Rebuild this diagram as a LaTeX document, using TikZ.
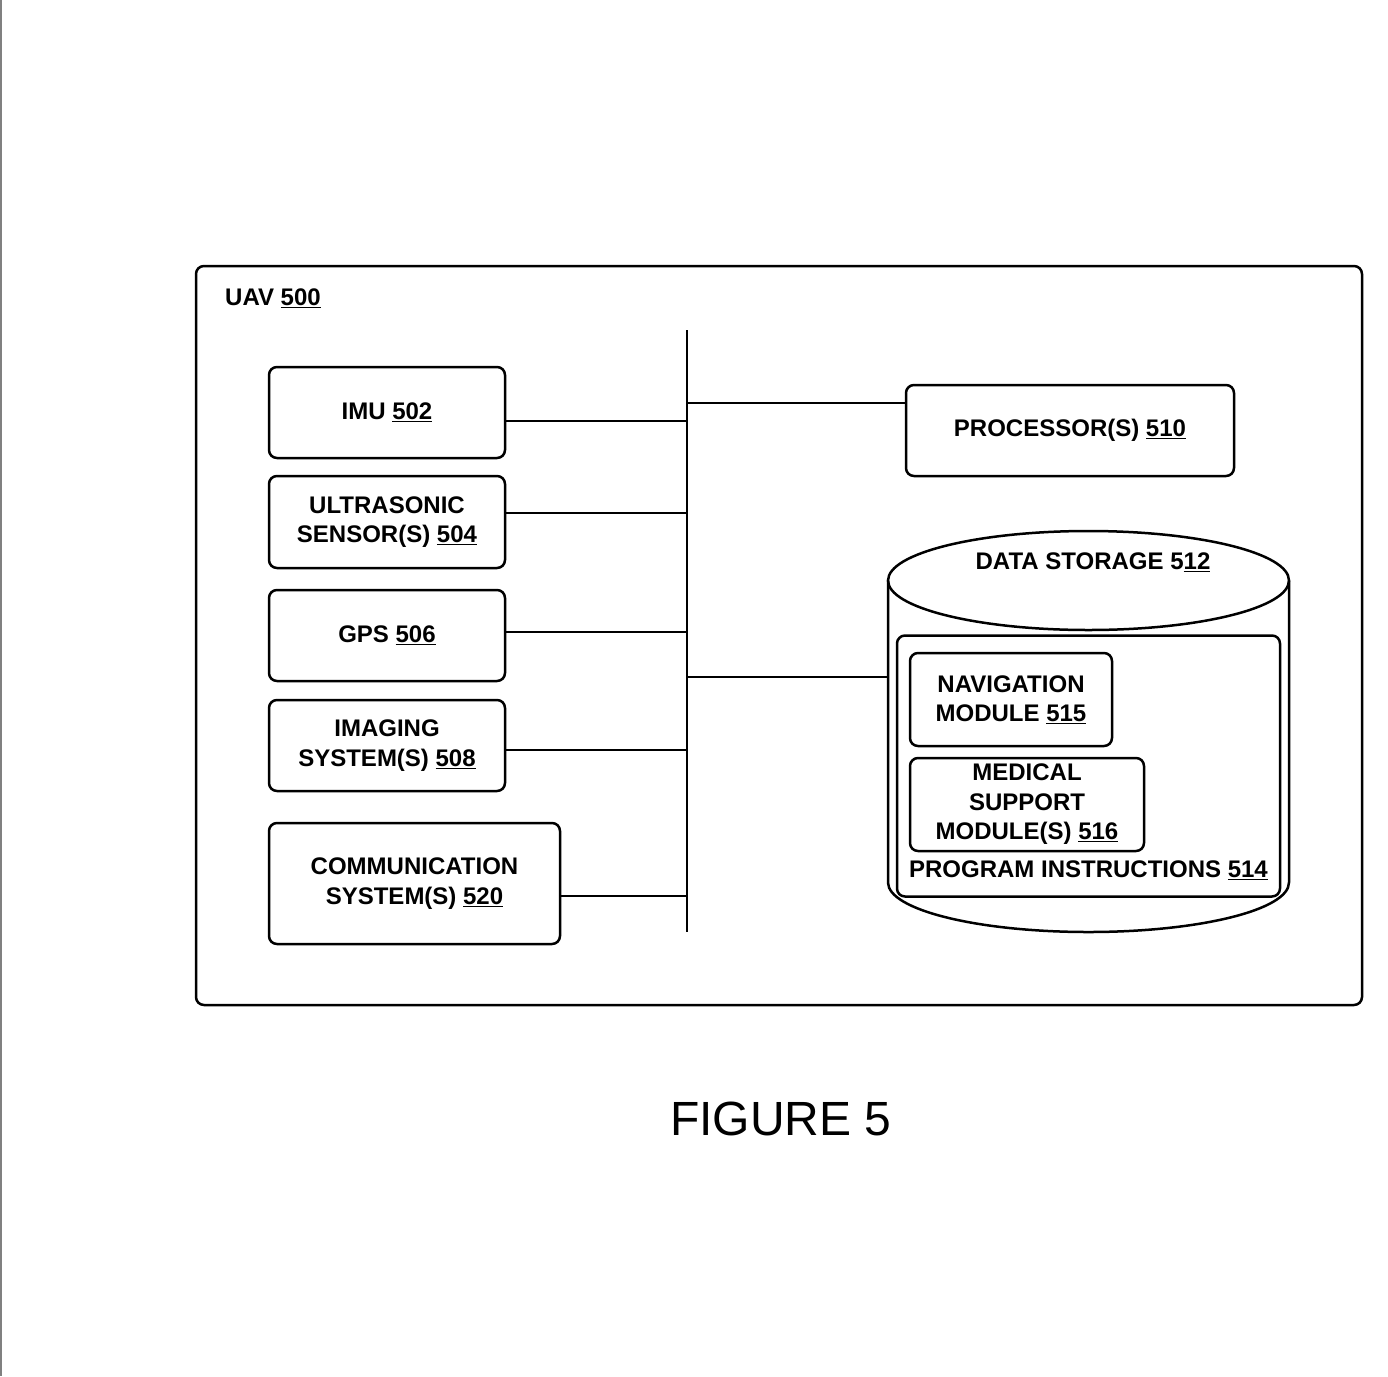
\documentclass[tikz,border=0pt]{standalone}
\usepackage{fontspec}
\setmainfont{Liberation Sans}
\begin{document}
\begin{tikzpicture}[x=1pt,y=-1pt,
		box/.style={draw, line width=2.5pt, rounded corners=8pt, align=center, inner sep=0pt,
			font=\bfseries\fontsize{24}{29.5}\selectfont},
		lbl/.style={align=center, inner sep=0pt, font=\bfseries\fontsize{24}{29.5}\selectfont},
		wire/.style={line width=2pt}]
		\useasboundingbox (0,0) rectangle (1388,1376);
		\draw[gray, line width=2pt] (1,0) -- (1,1376);
		
		% outer frame
		\node[box, minimum width=1166, minimum height=739] (uav) at (779,635.5) {};
		\node[lbl, anchor=west] (uavlbl) at (225,298) {UAV \underline{500}};
		
		% left column
		\node[box, minimum width=236, minimum height=91] (imu) at (387,412.5) {IMU \underline{502}};
		\node[box, minimum width=236, minimum height=92] (sonic) at (387,522) {ULTRASONIC\\SENSOR(S) \underline{504}};
		\node[box, minimum width=236, minimum height=91] (gps) at (387,635.5) {GPS \underline{506}};
		\node[box, minimum width=236, minimum height=91] (imaging) at (387,745.5) {IMAGING\\SYSTEM(S) \underline{508}};
		\node[box, minimum width=291, minimum height=121] (comm) at (414.5,883.5) {COMMUNICATION\\SYSTEM(S) \underline{520}};
		
		% right column
		\node[box, minimum width=328, minimum height=91] (proc) at (1070,430.5) {PROCESSOR(S) \underline{510}};
		
		% data storage
		\draw[line width=2.5pt] (888,580.5) -- (888,882.5)
			arc[start angle=180, end angle=360, x radius=200.5pt, y radius=49.5pt] -- (1289,580.5);
		\draw[line width=2.5pt] (1088.5,580.5) ellipse[x radius=200.5pt, y radius=49.5pt];
		\coordinate (dsw) at (888,677);
		\node[lbl] (dslbl) at (1093,562) {DATA STORAGE 5\underline{12}};
		\node[box, minimum width=383, minimum height=261] (prog) at (1088.5,766) {};
		\node[lbl] (proglbl) at (1088.5,870) {PROGRAM INSTRUCTIONS \underline{514}};
		\node[box, minimum width=202, minimum height=93] (nav) at (1011,699.5) {NAVIGATION\\MODULE \underline{515}};
		\node[box, minimum width=234, minimum height=93] (med) at (1027,804.5) {MEDICAL\\SUPPORT\\MODULE(S) \underline{516}};
		
		% bus
		\coordinate (bustop) at (687,330);
		\coordinate (busbot) at (687,932);
		\draw[wire] (bustop) -- (busbot);
		\coordinate (b1) at (687,421);
		\coordinate (b2) at (687,513);
		\coordinate (b3) at (687,632);
		\coordinate (b4) at (687,750);
		\coordinate (b5) at (687,896);
		\coordinate (b6) at (687,403);
		\coordinate (b7) at (687,677);
		\draw[wire] (b1 -| imu.east) -- (b1);
		\draw[wire] (b2 -| sonic.east) -- (b2);
		\draw[wire] (b3 -| gps.east) -- (b3);
		\draw[wire] (b4 -| imaging.east) -- (b4);
		\draw[wire] (b5 -| comm.east) -- (b5);
		\draw[wire] (b6) -- (b6 -| proc.west);
		\draw[wire] (b7) -- (dsw);
		
		\node[inner sep=0pt, font=\fontsize{48}{58}\selectfont] (fig) at (781,1119) {FIGURE 5};
		
\end{tikzpicture}
\end{document}
